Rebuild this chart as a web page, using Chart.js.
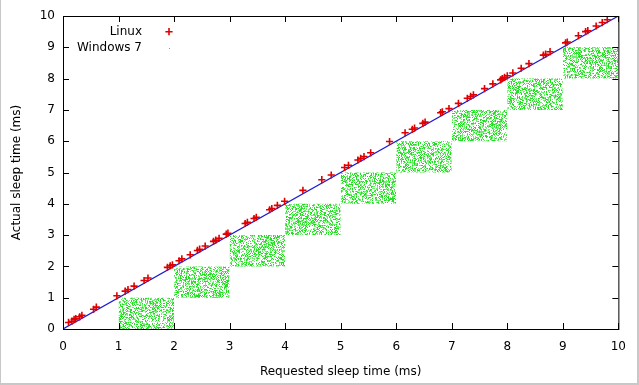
<!DOCTYPE html>
<html lang="en">
<head>
<meta charset="UTF-8">
<title>Requested vs actual sleep time</title>
<script src="https://cdn.jsdelivr.net/npm/chart.js"></script>
<style>
  html, body { margin: 0; padding: 0; background: #fff; }
  #wrap { width: 636px; height: 383px; border-left: 1px solid #c8c8c8; border-right: 2px solid #c8c8c8; border-bottom: 2px solid #c8c8c8; }
  canvas { display: block; }
</style>
</head>
<body>
<div id="wrap"><canvas id="chart" width="636" height="383"></canvas></div>
<script>
// Linux: requested vs actual sleep (ms)
const linuxX = [0.10,0.16,0.20,0.23,0.30,0.34,0.55,0.60,0.97,1.12,
                1.17,1.28,1.46,1.53,1.88,1.93,1.97,2.09,2.14,2.29,
                2.42,2.46,2.56,2.71,2.75,2.81,2.94,2.97,3.28,3.32,
                3.44,3.48,3.72,3.76,3.86,3.99,4.32,4.66,4.83,5.07,
                5.14,5.31,5.36,5.42,5.54,5.88,6.16,6.29,6.33,6.48,
                6.52,6.80,6.83,6.95,7.12,7.28,7.34,7.39,7.59,7.74,
                7.88,7.91,7.95,8.00,8.10,8.25,8.39,8.65,8.69,8.77,
                9.05,9.08,9.28,9.41,9.45,9.60,9.71,9.80];
const linuxY = [0.21,0.25,0.31,0.33,0.39,0.44,0.63,0.70,1.06,1.21,
                1.26,1.37,1.55,1.63,1.97,2.02,2.05,2.18,2.24,2.37,
                2.51,2.55,2.65,2.80,2.84,2.90,3.03,3.06,3.37,3.41,
                3.53,3.57,3.81,3.85,3.95,4.08,4.43,4.77,4.92,5.16,
                5.23,5.40,5.45,5.51,5.63,5.99,6.27,6.38,6.42,6.57,
                6.61,6.91,6.94,7.04,7.21,7.37,7.43,7.48,7.68,7.83,
                7.96,8.00,8.04,8.09,8.18,8.33,8.48,8.75,8.78,8.86,
                9.14,9.17,9.37,9.50,9.53,9.68,9.79,9.88];

// Windows 7: dense clouds, one block per requested millisecond
const winFrom = [1, 2, 3, 4, 5, 6, 7, 8, 9];
const winTo   = [2, 3, 4, 5, 6, 7, 8, 9, 10];
const winLow  = [0, 1, 2, 3, 4, 5, 6, 7, 8];
const winHigh = [1, 2, 3, 4, 5, 6, 7, 8, 9];

// reference line actual = requested
const idealX = [0, 10];
const idealY = [0, 10];

const xTicks = [0, 1, 2, 3, 4, 5, 6, 7, 8, 9, 10];

Chart.defaults.font.family = 'DejaVu Sans';
Chart.defaults.font.size = 12;
Chart.defaults.color = '#000';

const RED = '#e00000';
const GREEN = '#2fe02f';
const BLUE = '#1a1ad0';

// speckled texture for the Windows clouds
function speckle() {
  const c = document.createElement('canvas');
  c.width = 97; c.height = 97;
  const g = c.getContext('2d');
  for (let i = 0; i < 97; i++) {
    for (let j = 0; j < 97; j++) {
      let h = (Math.imul(i, 374761393) + Math.imul(j, 668265263)) | 0;
      h = Math.imul(h ^ (h >>> 13), 1274126177);
      h ^= h >>> 16;
      const r = (h >>> 0) / 4294967296;
      if (r < 0.5) {
        g.fillStyle = r < 0.25 ? '#22dd22' : '#6ef06e';
        g.fillRect(i, j, 1, 1);
      }
    }
  }
  return g.createPattern(c, 'repeat');
}
const winFill = speckle();

const datasets = [{
  label: 'Linux',
  data: linuxX.map((x, i) => ({ x: x, y: linuxY[i] })),
  pointStyle: 'cross',
  pointRadius: 3.6,
  pointHoverRadius: 3.6,
  borderColor: RED,
  backgroundColor: RED,
  borderWidth: 1.6,
  pointBorderWidth: 1.6,
  order: 0
}, {
  type: 'line',
  label: 'ideal',
  data: idealX.map((x, i) => ({ x: x, y: idealY[i] })),
  borderColor: BLUE,
  borderWidth: 1.2,
  pointRadius: 0,
  fill: false,
  order: 1
}];

winFrom.forEach((x0, i) => {
  datasets.push({
    type: 'line',
    label: 'Windows 7',
    data: [{ x: x0, y: winHigh[i] }, { x: winTo[i], y: winHigh[i] }],
    fill: { value: winLow[i] },
    backgroundColor: winFill,
    borderColor: 'rgba(0,0,0,0)',
    borderWidth: 1,
    pointRadius: 0,
    order: 2
  });
});

// gnuplot style frame, mirrored inward ticks, key
const frame = {
  id: 'frame',
  afterDatasetsDraw(chart) {
    const { ctx, chartArea: a, scales: { x, y } } = chart;
    ctx.save();
    ctx.strokeStyle = '#000';
    ctx.lineWidth = 1;
    ctx.beginPath();
    x.ticks.forEach(t => {
      const px = Math.round(x.getPixelForValue(t.value)) + 0.5;
      ctx.moveTo(px, a.bottom); ctx.lineTo(px, a.bottom - 6);
      ctx.moveTo(px, a.top); ctx.lineTo(px, a.top + 6);
    });
    y.ticks.forEach(t => {
      const py = Math.round(y.getPixelForValue(t.value)) + 0.5;
      ctx.moveTo(a.left, py); ctx.lineTo(a.left + 6, py);
      ctx.moveTo(a.right, py); ctx.lineTo(a.right - 6, py);
    });
    ctx.stroke();
    ctx.strokeRect(a.left + 0.5, a.top + 0.5, a.right - a.left, a.bottom - a.top);

    // key
    ctx.font = '12px "DejaVu Sans"';
    ctx.fillStyle = '#000';
    ctx.textAlign = 'right';
    ctx.textBaseline = 'middle';
    ctx.fillText(chart.data.datasets[0].label, 141, 32);
    ctx.fillText(chart.data.datasets[2].label, 141, 48);
    ctx.strokeStyle = RED;
    ctx.lineWidth = 1.6;
    ctx.beginPath();
    ctx.moveTo(164.4, 31.7); ctx.lineTo(171.6, 31.7);
    ctx.moveTo(168, 28.1); ctx.lineTo(168, 35.3);
    ctx.stroke();
    ctx.fillStyle = GREEN;
    ctx.fillRect(168, 48, 1, 1);
    ctx.restore();
  }
};

new Chart(document.getElementById('chart'), {
  type: 'scatter',
  data: { datasets: datasets },
  options: {
    responsive: false,
    animation: false,
    devicePixelRatio: 1,
    events: [],
    layout: { padding: { top: 16, right: 15, left: 0, bottom: 0 } },
    plugins: { legend: { display: false }, tooltip: { enabled: false } },
    scales: {
      x: {
        type: 'linear', min: 0, max: 10,
        afterBuildTicks: s => { s.ticks = xTicks.map(v => ({ value: v })); },
        ticks: { padding: 11, font: { size: 12 } },
        grid: { display: false, drawTicks: false },
        border: { display: false },
        title: { display: true, text: 'Requested sleep time (ms)', padding: { top: 0, bottom: 4 } },
        afterFit: s => { s.height = 54; }
      },
      y: {
        type: 'linear', min: 0, max: 10,
        afterBuildTicks: s => { s.ticks = xTicks.map(v => ({ value: v })); },
        ticks: { padding: 8, font: { size: 12 } },
        grid: { display: false, drawTicks: false },
        border: { display: false },
        title: { display: true, text: 'Actual sleep time (ms)', padding: { top: 9, bottom: 0 } },
        afterFit: s => { s.width = 62; }
      }
    }
  },
  plugins: [frame]
});
</script>
</body>
</html>
